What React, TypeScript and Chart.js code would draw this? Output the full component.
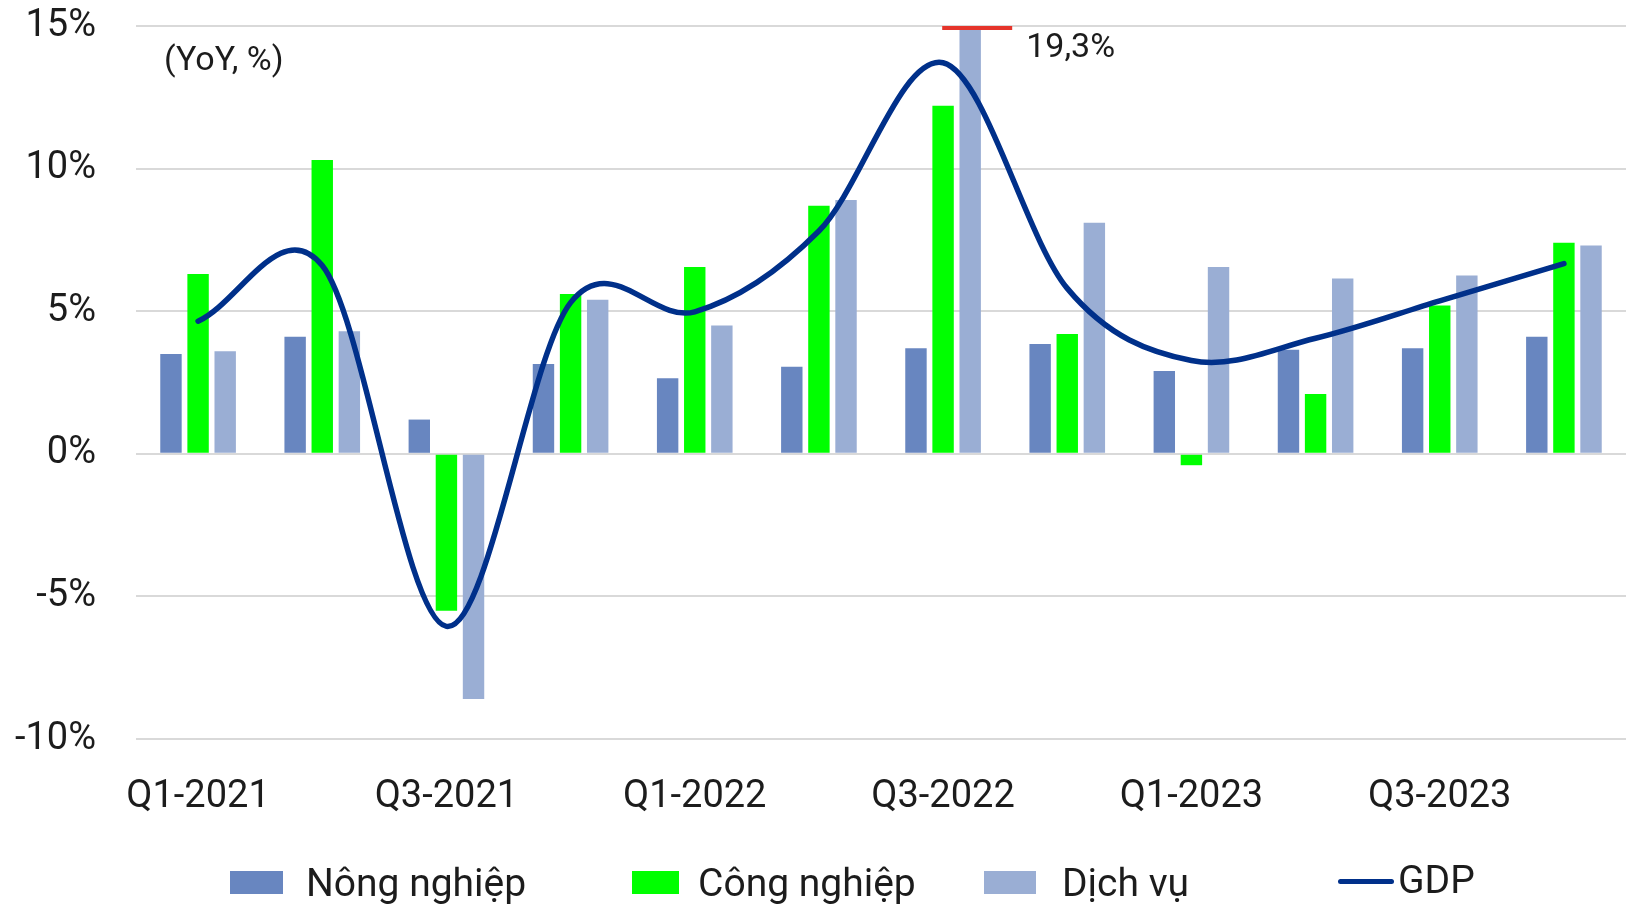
import React, { useEffect, useRef } from "react";
import { Chart, registerables } from "chart.js";

Chart.register(...registerables);

const categories = [
  "Q1-2021", "Q2-2021", "Q3-2021", "Q4-2021",
  "Q1-2022", "Q2-2022", "Q3-2022", "Q4-2022",
  "Q1-2023", "Q2-2023", "Q3-2023", "Q4-2023",
];
const nongNghiep = [3.5, 4.1, 1.2, 3.15, 2.65, 3.05, 3.7, 3.85, 2.9, 3.65, 3.7, 4.1];
const congNghiep = [6.3, 10.3, -5.5, 5.6, 6.55, 8.7, 12.2, 4.2, -0.4, 2.1, 5.2, 7.4];
const dichVu = [3.6, 4.3, -8.6, 5.4, 4.5, 8.9, 19.3, 8.1, 6.55, 6.15, 6.25, 7.3];
const gdp = [4.65, 6.6, -6.05, 5.3, 4.98, 7.81, 13.71, 5.8, 3.27, 4.05, 5.36, 6.67];
const yTicks = [-10, -5, 0, 5, 10, 15];

const seriesNames = ["Nông nghiệp", "Công nghiệp", "Dịch vụ", "GDP"];
const unitNote = "(YoY, %)";
const peakNote = "19,3%";

const C_NN = "#6886c0";
const C_CN = "#00ff00";
const C_DV = "#9aaed4";
const C_GDP = "#00308a";
const TEXT = "#1c1c1c";
const FONT = "Roboto";

export default function App() {
  const ref = useRef<HTMLCanvasElement | null>(null);

  useEffect(() => {
    if (!ref.current) return;

    // Excel-like smoothing: uniform Catmull-Rom control points
    const smooth = {
      id: "smooth",
      beforeDatasetsDraw(chart: any) {
        const meta = chart.getDatasetMeta(0);
        const line = meta.dataset;
        const pts = meta.data;
        if (!line || !pts.length) return;
        if (line.updateControlPoints) line.updateControlPoints(chart.chartArea, "x");
        const n = pts.length;
        for (let i = 0; i < n; i++) {
          const p = pts[i];
          const prev = pts[Math.max(0, i - 1)];
          const next = pts[Math.min(n - 1, i + 1)];
          let tx: number, ty: number;
          if (i === 0 || i === n - 1) {
            tx = (next.x - prev.x) / 3;
            ty = (next.y - prev.y) / 3;
          } else {
            tx = (next.x - prev.x) / 6;
            ty = (next.y - prev.y) / 6;
          }
          p.cp1x = p.x - tx;
          p.cp1y = p.y - ty;
          p.cp2x = p.x + tx;
          p.cp2y = p.y + ty;
        }
        line._path = undefined;
      },
    };

    const notes = {
      id: "notes",
      afterDatasetsDraw(chart: any) {
        const ctx = chart.ctx;
        const y = chart.scales.y;
        const top = y.getPixelForValue(yTicks[yTicks.length - 1]);
        const bar = chart.getDatasetMeta(3).data[6];
        ctx.save();
        ctx.strokeStyle = "#e5342a";
        ctx.lineWidth = 4;
        ctx.beginPath();
        ctx.moveTo(bar.x - 28, top + 2);
        ctx.lineTo(bar.x + 42, top + 2);
        ctx.stroke();
        ctx.fillStyle = TEXT;
        ctx.font = `34px ${FONT}`;
        ctx.textBaseline = "middle";
        ctx.textAlign = "left";
        ctx.fillText(peakNote, bar.x + 56, top + 22);
        ctx.fillText(unitNote, 164, 61);
        ctx.restore();
      },
    };

    const chart = new Chart(ref.current, {
      type: "bar",
      data: {
        labels: categories,
        datasets: [
          {
            type: "line",
            label: seriesNames[3],
            data: gdp,
            borderColor: C_GDP,
            backgroundColor: C_GDP,
            borderWidth: 5.5,
            pointRadius: 0,
            tension: 0.4,
            borderCapStyle: "round",
            order: 0,
          } as any,
          { label: seriesNames[0], data: nongNghiep, backgroundColor: C_NN, order: 1 },
          { label: seriesNames[1], data: congNghiep, backgroundColor: C_CN, order: 1 },
          { label: seriesNames[2], data: dichVu, backgroundColor: C_DV, order: 1 },
        ],
      },
      options: {
        responsive: false,
        animation: false,
        devicePixelRatio: 1,
        datasets: { bar: { categoryPercentage: 0.655, barPercentage: 0.79 } },
        layout: { padding: { top: 26, bottom: 92, left: 0, right: 0 } },
        plugins: { legend: { display: false }, tooltip: { enabled: false } },
        scales: {
          x: {
            afterFit: (s: any) => {
              s.height = 76;
              s.paddingLeft = 0;
              s.paddingRight = 0;
              s.paddingTop = 0;
              s.paddingBottom = 0;
            },
            grid: { display: false, drawTicks: false },
            border: { display: false },
            ticks: {
              autoSkip: false,
              maxRotation: 0,
              padding: 36,
              color: TEXT,
              font: { family: FONT, size: 38 },
              callback: (_v: any, i: number) => (i % 2 === 0 ? categories[i] : ""),
            },
          },
          y: {
            min: -10,
            max: 15,
            afterFit: (s: any) => {
              s.width = 136;
              s.paddingTop = 0;
              s.paddingBottom = 0;
              s.paddingLeft = 0;
              s.paddingRight = 0;
            },
            afterBuildTicks: (s: any) => {
              s.ticks = yTicks.map((v) => ({ value: v }));
            },
            grid: { color: "#d9d9d9", lineWidth: 2, drawTicks: false },
            border: { display: false },
            ticks: {
              padding: 40,
              color: TEXT,
              font: { family: FONT, size: 38 },
              callback: (v: any) => `${v}%`,
            },
          },
        },
      },
      plugins: [smooth, notes],
    });
    return () => chart.destroy();
  }, []);

  const legendText: React.CSSProperties = {
    position: "absolute",
    fontFamily: FONT,
    fontSize: 39,
    lineHeight: "39px",
    color: TEXT,
    whiteSpace: "nowrap",
  };
  const box = (left: number, w: number, color: string): React.CSSProperties => ({
    position: "absolute",
    left,
    top: 871,
    width: w,
    height: 23,
    background: color,
  });

  return (
    <div style={{ position: "fixed", left: 0, top: 0, width: 1626, height: 907, background: "#fff" }}>
      <canvas ref={ref} width={1626} height={907} style={{ position: "absolute", left: 0, top: 0 }} />
      <div style={box(230, 53, C_NN)} />
      <div style={{ ...legendText, left: 306, top: 864 }}>{seriesNames[0]}</div>
      <div style={box(632, 47, C_CN)} />
      <div style={{ ...legendText, left: 698, top: 864 }}>{seriesNames[1]}</div>
      <div style={box(984, 52, C_DV)} />
      <div style={{ ...legendText, left: 1062, top: 864 }}>{seriesNames[2]}</div>
      <div
        style={{
          position: "absolute",
          left: 1338,
          top: 879,
          width: 56,
          height: 5,
          borderRadius: 3,
          background: C_GDP,
        }}
      />
      <div style={{ ...legendText, left: 1398, top: 861 }}>{seriesNames[3]}</div>
    </div>
  );
}
